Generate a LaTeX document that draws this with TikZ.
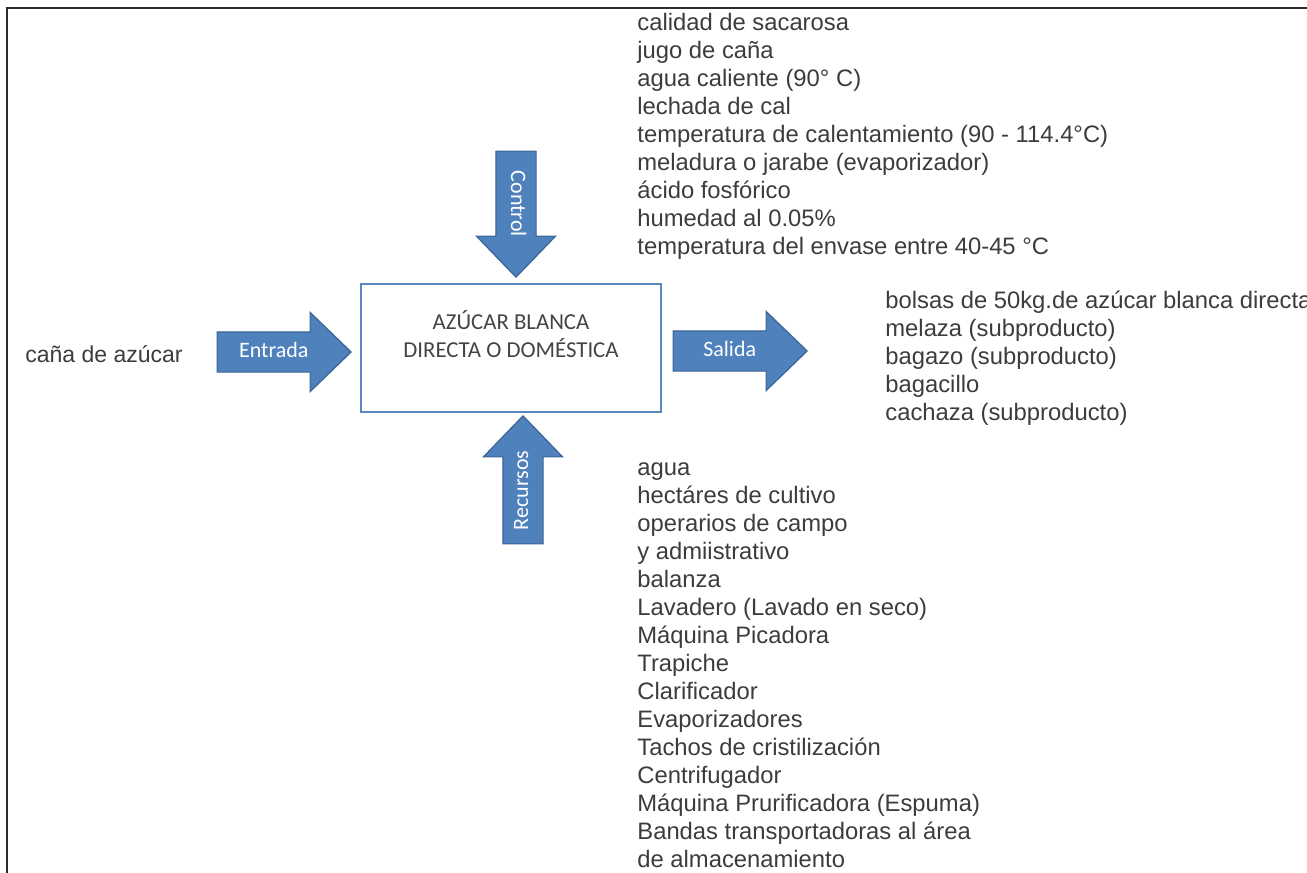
\documentclass[tikz,border=0pt]{standalone}
\usepackage{fontspec}
\setmainfont{Liberation Sans}
\newfontfamily\carlito{Carlito}
\usetikzlibrary{shapes.arrows}
\definecolor{arrowblue}{HTML}{4F81BD}
\definecolor{arrowedge}{HTML}{3A6496}
\definecolor{boxblue}{HTML}{5A86C2}
\definecolor{listgray}{HTML}{3C3C3C}
\definecolor{boxgray}{HTML}{444444}
\definecolor{framegray}{HTML}{2E2E2E}

\begin{document}
\begin{tikzpicture}[
		x=0.5pt, y=-0.5pt,
		blockarrow/.style={single arrow, draw=arrowedge, fill=arrowblue, line width=0.6pt,
			minimum width=39pt, single arrow head extend=9.75pt, single arrow tip angle=88,
			text height=7.5pt, text depth=2.5pt, inner ysep=4.75pt, inner xsep=0pt,
			font=\carlito\fontsize{11pt}{13pt}\selectfont, text=white},
		procbox/.style={draw=boxblue, line width=1.2pt, minimum width=150pt, minimum height=64pt},
		proctext/.style={align=center, font=\carlito\fontsize{11.4pt}{14pt}\selectfont, text=boxgray},
		itemlist/.style={align=left, anchor=north west, inner sep=0pt, text=listgray,
			font=\fontsize{11.9pt}{14pt}\selectfont},
		framestyle/.style={draw=framegray, line width=1pt}
	]
	\useasboundingbox (0,0) rectangle (1307,873);
	\draw[framestyle] (7,873) -- (7,8) -- (1307,8);

	\node[procbox] (proc) at (511,348) {};
	\node[proctext] (title) at (511,334) {AZÚCAR BLANCA\\DIRECTA O DOMÉSTICA};

	\node[blockarrow, minimum height=67pt, anchor=tip] (entrada) at (352,352) {Entrada};
	\node[blockarrow, minimum height=67pt, anchor=tip] (salida) at (808,351) {Salida};
	\node[blockarrow, minimum height=63pt, anchor=tip, rotate=-90] (control) at (516,278) {Control};
	\node[blockarrow, minimum height=64pt, anchor=tip, rotate=90] (recursos) at (523,415) {Recursos};

	\node[anchor=base west, inner sep=0pt, text=listgray, font=\fontsize{11.5pt}{14pt}\selectfont] (cana) at (25,362) {caña de azúcar};

	\node[itemlist] (controles) at (637,13) {calidad de sacarosa\\
		jugo de caña\\
		agua caliente (90° C)\\
		lechada de cal\\
		temperatura de calentamiento (90 - 114.4°C)\\
		meladura o jarabe (evaporizador)\\
		ácido fosfórico\\
		humedad al 0.05\%\\
		temperatura del envase entre 40-45 °C};

	\node[itemlist] (salidas) at (885,291) {bolsas de 50kg.de azúcar blanca directa\\
		melaza (subproducto)\\
		bagazo (subproducto)\\
		bagacillo\\
		cachaza (subproducto)};

	\node[itemlist] (recursoslist) at (637,462) {agua\\
		hectáres de cultivo\\
		operarios de campo\\
		y admiistrativo\\
		balanza\\
		Lavadero (Lavado en seco)\\
		Máquina Picadora\\
		Trapiche\\
		Clarificador\\
		Evaporizadores\\
		Tachos de cristilización\\
		Centrifugador\\
		Máquina Prurificadora (Espuma)\\
		Bandas transportadoras al área\\
		de almacenamiento};
\end{tikzpicture}
\end{document}
